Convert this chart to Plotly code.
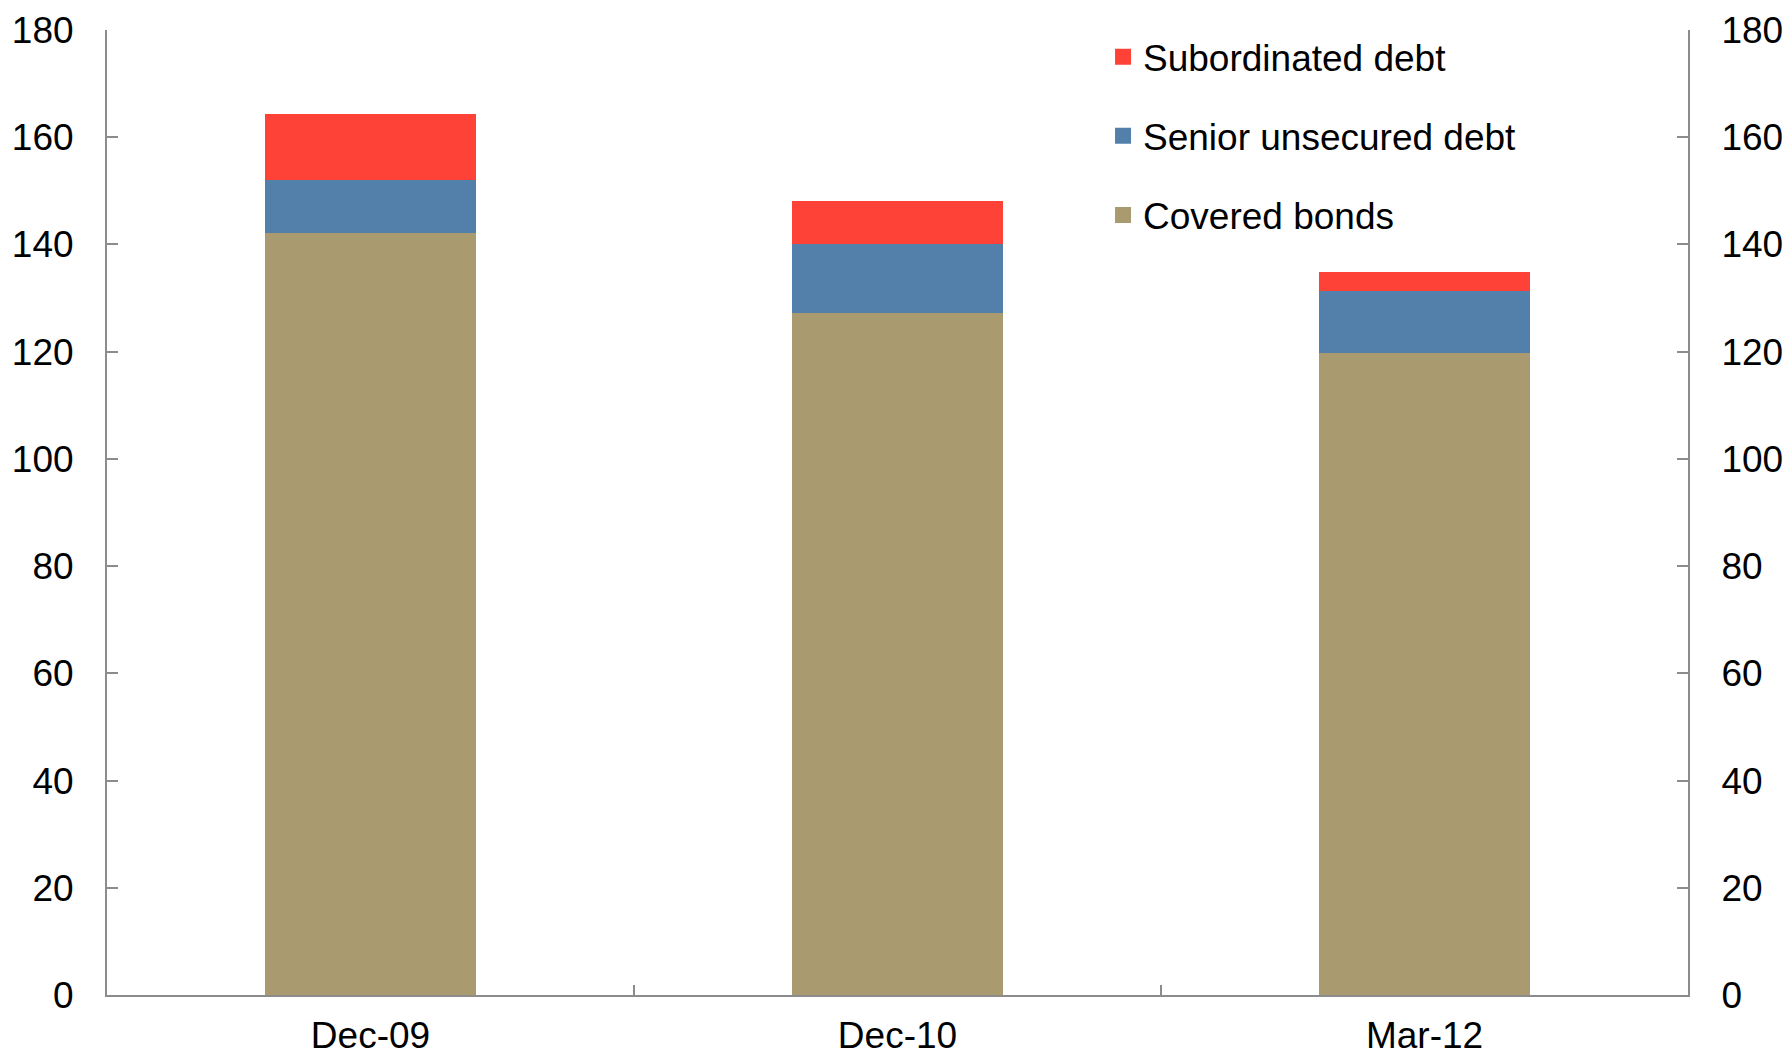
import plotly.graph_objects as go

categories = ["Dec-09", "Dec-10", "Mar-12"]
covered_bonds = [142.2, 127.3, 119.7]
senior_unsecured = [9.85, 12.75, 11.6]
subordinated = [12.25, 8.05, 3.5]
y_ticks = [0, 20, 40, 60, 80, 100, 120, 140, 160, 180]

series = [
    ("Covered bonds", covered_bonds, "#A99B6F", 3),
    ("Senior unsecured debt", senior_unsecured, "#5280AA", 2),
    ("Subordinated debt", subordinated, "#FF4238", 1),
]

FONT = "Liberation Sans, Arial, sans-serif"
FS = 37
AXIS_COLOR = "#8c8c8c"

fig = go.Figure()
for name, vals, color, rank in series:
    fig.add_trace(go.Bar(x=categories, y=vals, name=name, showlegend=False,
                         marker=dict(color=color, line=dict(width=0))))
# legend entries (larger square swatches)
for name, vals, color, rank in series:
    fig.add_trace(go.Scatter(x=[categories[0]], y=[None], name=name, mode="markers",
                             marker=dict(symbol="square", size=16, color=color),
                             legendrank=rank, legendgroup=name, hoverinfo="skip"))
fig.add_trace(go.Scatter(x=categories, y=[None] * len(categories), yaxis="y2",
                         showlegend=False, hoverinfo="skip", mode="markers"))

axis_common = dict(range=[0, 180], tickvals=y_ticks, ticks="inside", ticklen=11,
                   tickwidth=2, tickcolor=AXIS_COLOR, showline=True, linecolor=AXIS_COLOR,
                   linewidth=2, showgrid=False, zeroline=False, automargin=False,
                   tickfont=dict(family=FONT, size=FS, color="black"),
                   ticklabelstandoff=24)

fig.update_layout(
    width=1783, height=1048,
    margin=dict(l=99, r=103, t=22, b=61),
    paper_bgcolor="white", plot_bgcolor="white",
    barmode="stack", bargap=0.6,
    font=dict(family=FONT, size=FS, color="black"),
    xaxis=dict(type="category", range=[-0.5, 2.5], ticks="inside", tickson="boundaries",
               ticklen=10, tickwidth=2, tickcolor=AXIS_COLOR, showline=True,
               linecolor=AXIS_COLOR, linewidth=2, showgrid=False, automargin=False,
               ticklabelstandoff=7,
               tickfont=dict(family=FONT, size=FS, color="black")),
    yaxis=dict(side="left", **axis_common),
    yaxis2=dict(side="right", overlaying="y", **axis_common),
    legend=dict(x=0.630, y=1.004, xanchor="left", yanchor="top", traceorder="grouped",
                tracegroupgap=28, font=dict(family=FONT, size=FS, color="black"),
                bgcolor="rgba(0,0,0,0)", itemsizing="trace"),
    showlegend=True,
)

fig.write_html("out.html")
